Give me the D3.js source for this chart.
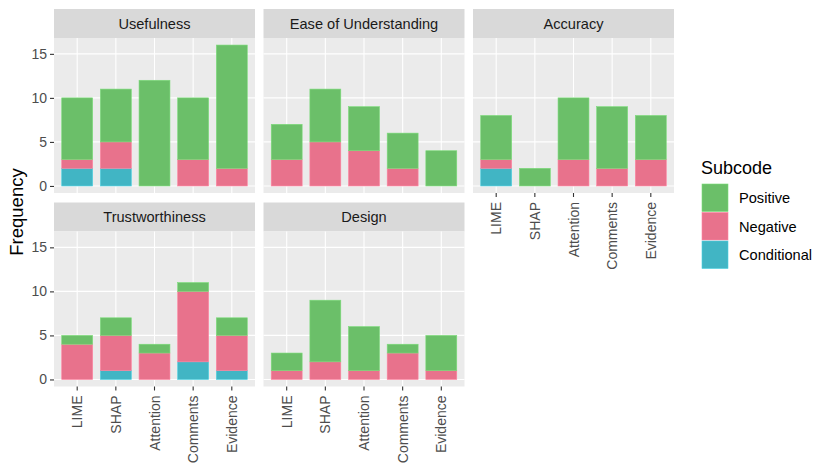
<!DOCTYPE html>
<html>
<head>
<meta charset="utf-8">
<script src="https://cdn.jsdelivr.net/npm/d3@7"></script>
<style>
  body { margin: 0; background: #fff; }
  svg { font-family: "Liberation Sans", Arial, sans-serif; }
</style>
</head>
<body>
<svg></svg>
<script>
let categories = ["LIME", "SHAP", "Attention", "Comments", "Evidence"];
let facets = ["Usefulness", "Ease of Understanding", "Accuracy", "Trustworthiness", "Design"];
let subcodes = ["Positive", "Negative", "Conditional"];
let stackOrder = ["Conditional", "Negative", "Positive"]; // bottom to top

// one row per facet, one value per category
let positiveCounts = [
  [7, 6, 12, 7, 14],
  [4, 6, 5, 4, 4],
  [5, 2, 7, 7, 5],
  [1, 2, 1, 1, 2],
  [2, 7, 5, 1, 4]
];
let negativeCounts = [
  [1, 3, 0, 3, 2],
  [3, 5, 4, 2, 0],
  [1, 0, 3, 2, 3],
  [4, 4, 3, 8, 4],
  [1, 2, 1, 3, 1]
];
let conditionalCounts = [
  [2, 2, 0, 0, 0],
  [0, 0, 0, 0, 0],
  [2, 0, 0, 0, 0],
  [0, 1, 0, 2, 1],
  [0, 0, 0, 0, 0]
];
let yTicks = [0, 5, 10, 15];

let width = 830;
let height = 475;
let colors = { Positive: "#6bbf69", Negative: "#e8728c", Conditional: "#41b5c4" };

let panelW = 201;
let panelH = 155;
let stripH = 29;
let colX = [54, 263.5, 473];
let rowY = [9, 202.5]; // strip tops

let svg = d3.select("svg").attr("width", width).attr("height", height);

let xScale = d3.scaleBand().domain(categories).range([0, panelW]).paddingInner(0.2).paddingOuter(0.2);
let yScale = d3.scaleLinear().domain([-0.8, 16.8]).range([panelH, 0]);

let stack = d3.stack().keys(stackOrder);

facets.forEach((facet, fi) => {
  let col = fi % 3;
  let row = Math.floor(fi / 3);
  let x0 = colX[col];
  let y0 = rowY[row];

  // strip
  svg.append("rect")
    .attr("x", x0).attr("y", y0)
    .attr("width", panelW).attr("height", stripH)
    .attr("fill", "#d9d9d9");
  svg.append("text")
    .attr("x", x0 + panelW / 2).attr("y", y0 + stripH / 2 + 5)
    .attr("text-anchor", "middle")
    .attr("font-size", 14.6)
    .attr("fill", "#1a1a1a")
    .text(facet);

  let g = svg.append("g").attr("transform", "translate(" + x0 + "," + (y0 + stripH) + ")");

  g.append("rect")
    .attr("width", panelW).attr("height", panelH)
    .attr("fill", "#ebebeb");

  // grid
  g.selectAll(".hgrid").data(yTicks).enter().append("line")
    .attr("x1", 0).attr("x2", panelW)
    .attr("y1", (d) => yScale(d)).attr("y2", (d) => yScale(d))
    .attr("stroke", "#fff").attr("stroke-width", 1.1);
  g.selectAll(".vgrid").data(categories).enter().append("line")
    .attr("y1", 0).attr("y2", panelH)
    .attr("x1", (d) => xScale(d) + xScale.bandwidth() / 2)
    .attr("x2", (d) => xScale(d) + xScale.bandwidth() / 2)
    .attr("stroke", "#fff").attr("stroke-width", 1.1);

  let rows = categories.map((c, i) => {
    return {
      cat: c,
      Positive: positiveCounts[fi][i],
      Negative: negativeCounts[fi][i],
      Conditional: conditionalCounts[fi][i]
    };
  });

  let layers = stack(rows);
  layers.forEach((layer) => {
    g.selectAll(".bar-" + layer.key)
      .data(layer.filter((d) => d[1] > d[0]))
      .enter().append("rect")
      .attr("x", (d) => xScale(d.data.cat))
      .attr("width", xScale.bandwidth())
      .attr("y", (d) => yScale(d[1]))
      .attr("height", (d) => yScale(d[0]) - yScale(d[1]))
      .attr("fill", colors[layer.key])
      .attr("stroke", d3.color(colors[layer.key]).brighter(0.4))
      .attr("stroke-width", 0.6);
  });

  // y axis on left column
  if (col === 0) {
    let yAxis = d3.axisLeft(yScale).tickValues(yTicks).tickSize(4).tickPadding(3);
    let ya = g.append("g").call(yAxis);
    ya.select(".domain").remove();
    ya.selectAll("line").attr("stroke", "#333").attr("stroke-width", 1.1);
    ya.selectAll("text").attr("font-size", 14).attr("fill", "#4d4d4d")
      .attr("font-family", "Liberation Sans, Arial, sans-serif");
  }

  // x axis on bottom panels (row 2, plus Accuracy)
  if (row === 1 || col === 2) {
    let xAxis = d3.axisBottom(xScale).tickSize(4).tickPadding(3);
    let xa = g.append("g").attr("transform", "translate(0," + panelH + ")").call(xAxis);
    xa.select(".domain").remove();
    xa.selectAll("line").attr("stroke", "#333").attr("stroke-width", 1.1);
    xa.selectAll("text")
      .attr("font-size", 14).attr("fill", "#4d4d4d")
      .attr("font-family", "Liberation Sans, Arial, sans-serif")
      .attr("text-anchor", "end")
      .attr("dy", null)
      .attr("transform", "translate(5,9) rotate(-90)")
      .attr("y", 0).attr("x", 0);
  }
});

// y title
svg.append("text")
  .attr("transform", "translate(23,212) rotate(-90)")
  .attr("text-anchor", "middle")
  .attr("font-size", 18.5)
  .attr("fill", "#000")
  .text("Frequency");

// legend
let legend = svg.append("g").attr("transform", "translate(701,0)");
legend.append("text")
  .attr("x", 0).attr("y", 174)
  .attr("font-size", 18)
  .text("Subcode");
legend.selectAll(".key").data(subcodes).enter().append("rect")
  .attr("x", 1).attr("y", (d, i) => 184 + i * 28.5)
  .attr("width", 26).attr("height", 27.5)
  .attr("fill", (d) => colors[d])
  .attr("stroke", (d) => d3.color(colors[d]).brighter(0.4))
  .attr("stroke-width", 0.6);
legend.selectAll(".lab").data(subcodes).enter().append("text")
  .attr("x", 38).attr("y", (d, i) => 184 + i * 28.5 + 14 + 5)
  .attr("font-size", 14.6)
  .attr("fill", "#000")
  .text((d) => d);
</script>
</body>
</html>
